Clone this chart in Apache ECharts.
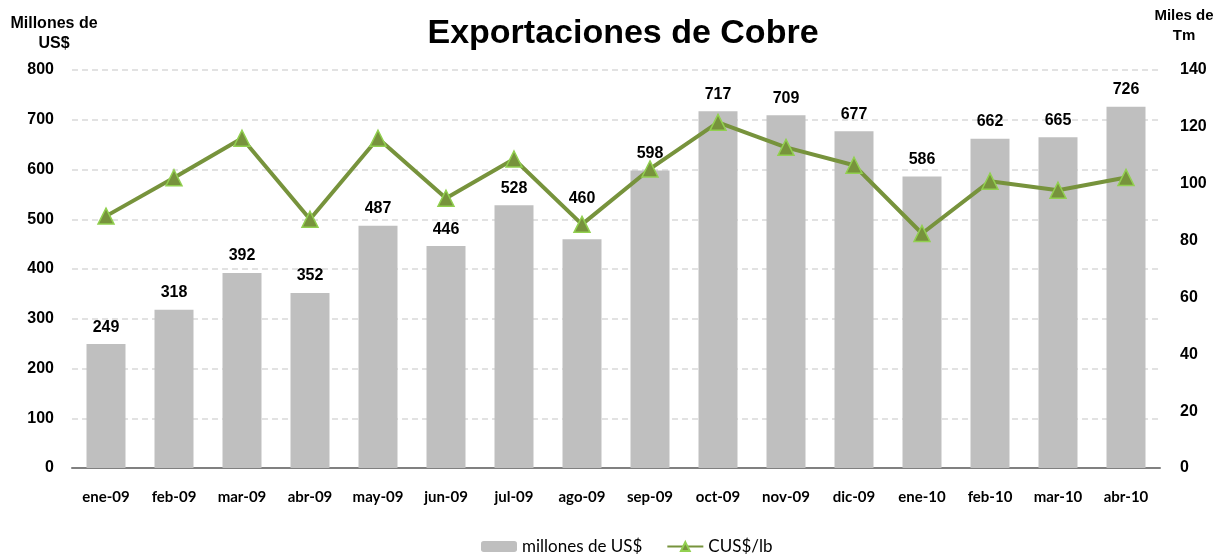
<!DOCTYPE html>
<html>
<head>
<meta charset="utf-8">
<script src="https://cdn.jsdelivr.net/npm/echarts@6/dist/echarts.min.js"></script>
<style>
	html, body { margin: 0; padding: 0; background: #fff; }
	#chart { width: 1217px; height: 554px; }
</style>
</head>
<body>
<div id="chart"></div>
<script>
var meses = ['ene-09', 'feb-09', 'mar-09', 'abr-09', 'may-09', 'jun-09', 'jul-09', 'ago-09',
	'sep-09', 'oct-09', 'nov-09', 'dic-09', 'ene-10', 'feb-10', 'mar-10', 'abr-10'];
var millonesUS = [249, 318, 392, 352, 487, 446, 528, 460, 598, 717, 709, 677, 586, 662, 665, 726];
var centavosLb = [88.6, 102.1, 116, 87.5, 116, 94.9, 108.7, 85.7, 105.2, 121.6, 112.8, 106.5, 82.5, 100.9, 97.7, 102.2];

var myChart = echarts.init(document.getElementById('chart'));

// la etiqueta de ago-09 va movida hacia arriba para no tapar el marcador
var barData = millonesUS.map(function(v, i) {
	if(meses[i] === 'ago-09') {
		return { value: v, label: { offset: [0, -24] } };
	}
	return v;
});

var nameStyle = {
	fill: '#000',
	font: 'bold 15px "Liberation Sans"',
	align: 'center',
	verticalAlign: 'top',
	lineHeight: 20
};

var option = {
	animation: false,
	title: {
		text: 'Exportaciones de Cobre',
		left: 618,
		textAlign: 'center',
		top: 12,
		textStyle: {
			fontFamily: 'Liberation Sans',
			fontSize: 34,
			fontWeight: 'bold',
			color: '#000'
		}
	},
	graphic: [{
		type: 'text',
		x: 54,
		y: 14,
		style: Object.assign({ text: 'Millones de\nUS$' }, nameStyle, { font: 'bold 16px "Liberation Sans"' })
	}, {
		type: 'text',
		x: 1184,
		y: 6,
		style: Object.assign({ text: 'Miles de\nTm' }, nameStyle)
	}],
	legend: {
		top: 533,
		left: 476,
		itemWidth: 36,
		itemHeight: 11,
		itemGap: 24,
		textStyle: {
			fontFamily: 'Lato',
			fontSize: 17,
			color: '#000'
		},
		data: ['millones de US$', 'CUS$/lb']
	},
	grid: {
		left: 72,
		right: 57,
		top: 70,
		bottom: 86
	},
	xAxis: {
		type: 'category',
		data: meses,
		axisTick: { show: false },
		axisLine: {
			lineStyle: { color: '#808080', width: 2 }
		},
		axisLabel: {
			margin: 22,
			fontFamily: 'Lato',
			fontWeight: 'bold',
			fontSize: 15,
			color: '#000'
		}
	},
	yAxis: [{
		type: 'value',
		min: 0,
		max: 800,
		interval: 100,
		axisLine: { show: false },
		axisTick: { show: false },
		axisLabel: {
			margin: 18,
			fontFamily: 'Liberation Sans',
			fontWeight: 'bold',
			fontSize: 16,
			color: '#000'
		},
		splitLine: {
			lineStyle: { color: '#D9D9D9', type: [6, 4], width: 1.5 }
		}
	}, {
		type: 'value',
		min: 0,
		max: 140,
		interval: 20,
		axisLine: { show: false },
		axisTick: { show: false },
		axisLabel: {
			margin: 20,
			fontFamily: 'Liberation Sans',
			fontWeight: 'bold',
			fontSize: 16,
			color: '#000'
		},
		splitLine: { show: false }
	}],
	series: [{
		name: 'millones de US$',
		type: 'bar',
		yAxisIndex: 0,
		barWidth: 39,
		itemStyle: { color: '#BFBFBF' },
		label: {
			show: true,
			position: 'top',
			distance: 9,
			fontFamily: 'Liberation Sans',
			fontWeight: 'bold',
			fontSize: 16,
			color: '#000'
		},
		data: barData
	}, {
		name: 'CUS$/lb',
		type: 'line',
		yAxisIndex: 1,
		symbol: 'triangle',
		symbolSize: 16,
		lineStyle: { color: '#77933C', width: 4 },
		itemStyle: {
			color: '#77933C',
			borderColor: '#92D050',
			borderWidth: 1.5
		},
		data: centavosLb
	}]
};

myChart.setOption(option);
</script>
</body>
</html>
